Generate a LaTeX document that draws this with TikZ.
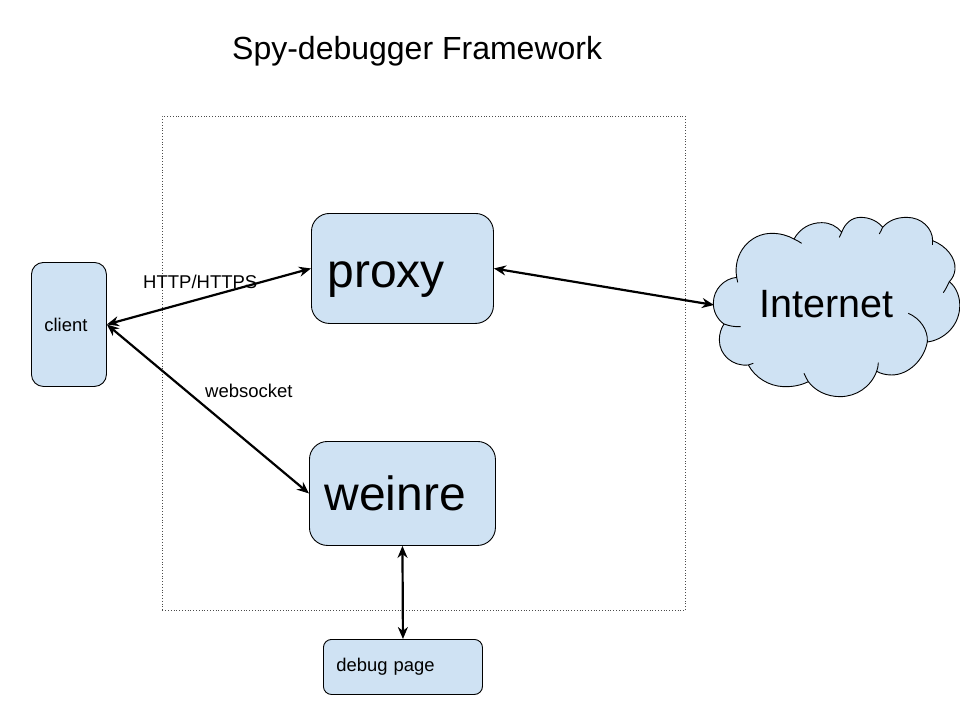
\documentclass[tikz,border=0pt]{standalone}
\usepackage{fontspec}
\setmainfont{Liberation Sans}
\usetikzlibrary{arrows.meta}
\definecolor{boxblue}{HTML}{CFE2F3}
\tikzset{
  box/.style={draw=black,fill=boxblue,line width=0.9pt,inner sep=0pt,anchor=north west},
  link/.style={line width=2.2pt,{Stealth[length=12pt,width=10pt]}-{Stealth[length=12pt,width=10pt]}},
  lbl/.style={inner sep=0pt,anchor=base west,font=\fontsize{18.5}{20}\selectfont},
  cloudline/.style={draw=black,line width=0.9pt,line join=round}
}
\begin{document}
\begin{tikzpicture}[x=1pt,y=-1pt]
\useasboundingbox (0,0) rectangle (960,720);
\fill[white] (0,0) rectangle (960,720);
\node[inner sep=0pt,anchor=base west,font=\fontsize{32}{36}\selectfont] (title) at (232,59) {Spy-debugger Framework};
\node[draw=black!70,dotted,line width=0.8pt,minimum width=523pt,minimum height=494pt,inner sep=0pt,anchor=north west] (frame) at (162,116) {};
% boxes
\node[box,rounded corners=12pt,minimum width=75pt,minimum height=124pt,align=left,text width=49pt,inner xsep=13pt,font=\fontsize{18.4}{20}\selectfont] (client) at (31,262) {client};
\node[box,rounded corners=18pt,minimum width=182pt,minimum height=110pt,text width=150pt,align=left,inner xsep=16pt,font=\fontsize{48}{52}\selectfont] (proxy) at (311,213) {\raisebox{-19pt}[0pt][0pt]{proxy}};
\node[box,rounded corners=18pt,minimum width=186pt,minimum height=104pt,text width=156pt,align=left,inner xsep=15pt,font=\fontsize{48}{52}\selectfont] (weinre) at (309,441) {weinre};
\node[box,rounded corners=8pt,minimum width=159pt,minimum height=55pt,text width=133pt,align=left,inner xsep=13pt,font=\fontsize{18.4}{20}\selectfont] (debug) at (323,639) {debug page};
% cloud
\begin{scope}[shift={(700,200)},x=0.3333pt,y=-0.3333pt]
\path[cloudline,fill=boxblue]
  (72,372) .. controls (52,358) and (40,335) .. (40,310)
  .. controls (40,268) and (72,236) .. (110,232)
  .. controls (98,160) and (150,100) .. (215,100)
  .. controls (240,100) and (262,106) .. (282,117)
  .. controls (300,85) and (330,68) .. (365,68)
  .. controls (390,68) and (410,78) .. (425,97)
  .. controls (435,70) and (455,52) .. (482,52)
  .. controls (510,52) and (535,65) .. (548,82)
  .. controls (565,62) and (590,52) .. (620,52)
  .. controls (665,52) and (698,85) .. (698,122)
  .. controls (740,138) and (768,175) .. (765,208)
  .. controls (764,222) and (758,235) .. (748,245)
  .. controls (770,262) and (782,295) .. (779,325)
  .. controls (775,380) and (730,420) .. (682,426)
  .. controls (672,480) and (625,525) .. (575,525)
  .. controls (558,525) and (542,521) .. (530,514)
  .. controls (512,562) and (468,590) .. (420,590)
  .. controls (380,590) and (345,572) .. (325,545)
  .. controls (303,556) and (278,561) .. (250,560)
  .. controls (205,558) and (165,532) .. (145,495)
  .. controls (98,500) and (58,465) .. (58,420)
  .. controls (58,402) and (63,385) .. (72,372) -- cycle;
\draw[cloudline] (110,232) .. controls (111,237) and (112,242) .. (113,247);
\draw[cloudline] (282,117) .. controls (290,121) and (298,125) .. (305,130);
\draw[cloudline] (425,97) .. controls (423,102) and (420,107) .. (418,112);
\draw[cloudline] (548,82) .. controls (545,89) and (541,96) .. (538,102);
\draw[cloudline] (698,122) .. controls (699,127) and (699,131) .. (698,136);
\draw[cloudline] (748,245) .. controls (743,256) and (737,268) .. (730,278);
\draw[cloudline] (625,340) .. controls (660,355) and (685,390) .. (682,426);
\draw[cloudline] (530,514) .. controls (533,505) and (535,497) .. (535,488);
\draw[cloudline] (325,545) .. controls (320,537) and (316,529) .. (312,520);
\draw[cloudline] (145,495) .. controls (150,494) and (155,492) .. (160,490);
\draw[cloudline] (72,372) .. controls (88,378) and (105,381) .. (122,380);
\end{scope}
\node[inner sep=0pt,anchor=base west,font=\fontsize{39.5}{44}\selectfont] (internet) at (759,317) {Internet};
\coordinate (cloudwest) at (714,305);
% connectors
\draw[link] (client.east) -- (proxy.west);
\draw[link] (client.east) -- (weinre.west);
\draw[link] (proxy.east) -- (cloudwest);
\draw[link] (weinre.south) -- (debug.north);
% labels
\node[lbl] (http) at (143,288) {HTTP/HTTPS};
\node[lbl] (ws) at (205,397) {websocket};
\end{tikzpicture}
\end{document}
